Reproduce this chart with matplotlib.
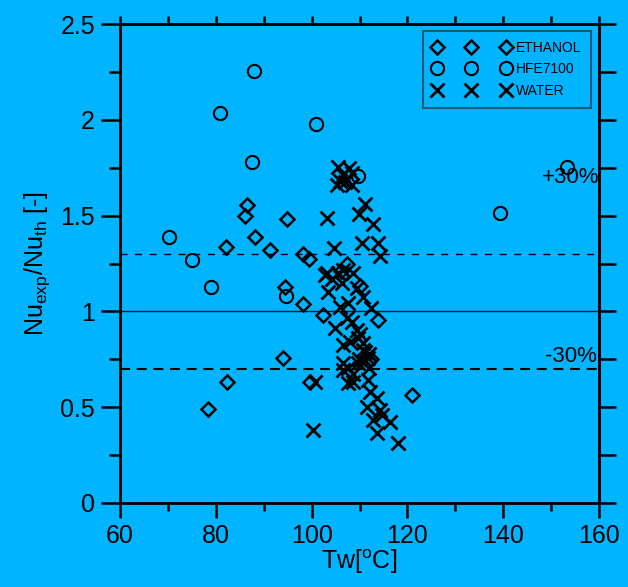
import matplotlib
matplotlib.use("Agg")
import matplotlib.pyplot as plt
from matplotlib.ticker import MultipleLocator, NullFormatter

plt.rcParams['font.family'] = ['Liberation Sans', 'DejaVu Sans']
plt.rcParams['mathtext.fontset'] = 'custom'
plt.rcParams['mathtext.rm'] = 'Liberation Sans'
plt.rcParams['mathtext.it'] = 'Liberation Sans:italic'

BG = '#00B4FF'

ethanol_x = [78.3, 82.2, 82.3, 86.1, 86.6, 88.2, 91.4, 94.8, 94.4, 94.1, 98.2, 98.3,
             99.4, 99.6, 102.4, 120.9, 113.9, 107.4, 110.1, 106.2, 112.3]
ethanol_y = [0.488, 1.336, 0.633, 1.498, 1.555, 1.39, 1.322, 1.484, 1.127, 0.758, 1.041, 1.30,
             1.275, 0.631, 0.98, 0.5625, 0.957, 1.25, 1.13, 1.21, 0.75]

hfe_x = [70.2, 75.0, 79.0, 80.9, 87.9, 87.5, 94.7, 100.9, 109.6, 139.4, 153.3]
hfe_y = [1.387, 1.27, 1.129, 2.035, 2.256, 1.78, 1.08, 1.98, 1.705, 1.516, 1.754]

water_x = [105.5, 107.9, 106.6, 108.4, 105.2, 107.0, 108.4, 106.0, 111.1, 109.9, 103.3, 112.9,
           110.6, 113.8, 104.7, 114.3, 102.8, 103.2, 104.2, 106.6, 105.6, 106.3, 108.7, 103.5,
           109.4, 110.8, 107.7, 105.9, 112.5, 104.9, 107.3, 108.4, 109.4, 110.2, 106.6, 110.8,
           108.0, 109.7, 110.7, 111.2, 111.9, 109.9, 106.6, 107.6, 110.7, 111.9, 109.7, 111.8,
           106.6, 108.6, 107.7, 108.7, 111.8, 100.7, 112.2, 113.6, 111.5, 114.3, 114.6, 112.9,
           116.4, 113.6, 118.0, 100.3]
water_y = [1.755, 1.747, 1.71, 1.72, 1.66, 1.677, 1.66, 1.68, 1.559, 1.507, 1.49, 1.456,
           1.356, 1.358, 1.33, 1.289, 1.19, 1.20, 1.17, 1.216, 1.20, 1.147, 1.199, 1.103,
           1.12, 1.077, 1.042, 1.025, 1.016, 0.912, 0.964, 0.946, 0.903, 0.88, 0.825, 0.80,
           0.842, 0.86, 0.834, 0.79, 0.78, 0.752, 0.729, 0.703, 0.736, 0.703, 0.729, 0.755,
           0.694, 0.674, 0.625, 0.633, 0.642, 0.633, 0.581, 0.546, 0.503, 0.485, 0.46, 0.433,
           0.424, 0.364, 0.311, 0.381]

ref_levels = [1.3, 1.0, 0.7]
band_labels = ['+30%', '-30%']
x_ticks = [60, 80, 100, 120, 140, 160]
y_ticks = [0, 0.5, 1, 1.5, 2, 2.5]

fig = plt.figure(figsize=(6.28, 5.87), dpi=100, facecolor=BG)
ax = fig.add_axes([120/628, 1 - 503/587, 479/628, 479/587])
ax.set_facecolor(BG)

ax.axhline(ref_levels[0], color='black', lw=1.0, ls=(0, (5, 5.5)), zorder=1)
ax.axhline(ref_levels[1], color='#0a1a2a', lw=1.0, ls='-', zorder=1)
ax.axhline(ref_levels[2], color='black', lw=1.5, ls=(0, (4.8, 3.2)), zorder=1)

ax.plot(ethanol_x, ethanol_y, ls='none', marker='D', ms=7.4, mfc='none', mec='black',
        mew=1.8, label='ETHANOL', zorder=3)
ax.plot(hfe_x, hfe_y, ls='none', marker='o', ms=9.5, mfc='none', mec='black',
        mew=1.5, label='HFE7100', zorder=3)
ax.plot(water_x, water_y, ls='none', marker='x', ms=10, mec='black',
        mew=2.0, label='WATER', zorder=3)

ax.text(148, 1.70, band_labels[0], fontsize=16, ha='left', va='center')
ax.text(148.7, 0.765, band_labels[1], fontsize=16, ha='left', va='center')

ax.set_xlim(60, 160)
ax.set_ylim(0, 2.5)
ax.set_xticks(x_ticks)
ax.set_xticklabels([str(v) for v in x_ticks])
ax.set_yticks(y_ticks)
ax.set_yticklabels(['0', '0.5', '1', '1.5', '2', '2.5'])
ax.xaxis.set_minor_locator(MultipleLocator(10))
ax.yaxis.set_minor_locator(MultipleLocator(0.25))

for s in ax.spines.values():
    s.set_linewidth(2.0)
ax.tick_params(which='both', direction='out', width=1.8, top=False, right=False,
               labelsize=18, pad=4)
ax.tick_params(axis='x', which='major', length=11)
ax.tick_params(axis='x', which='minor', length=6)
ax.tick_params(axis='y', which='major', length=14)
ax.tick_params(axis='y', which='minor', length=8)

# top ticks (outward, short, every 10)
axt = ax.secondary_xaxis('top')
axt.set_xticks(list(range(60, 161, 10)))
axt.xaxis.set_major_formatter(NullFormatter())
axt.tick_params(direction='out', length=5.5, width=1.8)
axt.spines['top'].set_linewidth(2.0)

# right ticks (outward, every 0.25)
axr = ax.secondary_yaxis('right')
axr.set_yticks([i * 0.25 for i in range(11)])
axr.yaxis.set_major_formatter(NullFormatter())
axr.tick_params(direction='out', length=12, width=1.8)
axr.spines['right'].set_linewidth(2.0)

ax.set_xlabel('Tw[$^{\\rm o}$C]', fontsize=18, labelpad=0)
ax.set_ylabel('Nu$_{\\rm exp}$/Nu$_{\\rm th}$ [-]', fontsize=18, labelpad=6)

leg = ax.legend(loc='upper right', bbox_to_anchor=(591/628, 1 - 31/587),
                bbox_transform=fig.transFigure, numpoints=3, fontsize=10,
                handlelength=5.6, handletextpad=0.4, labelspacing=0.55,
                borderpad=0.7, borderaxespad=0, fancybox=False, frameon=True,
                markerscale=1.0)
leg.get_frame().set_facecolor(BG)
leg.get_frame().set_edgecolor('#1a5a7a')
leg.get_frame().set_linewidth(1.5)
leg.get_frame().set_alpha(1)

fig.savefig('out.png', dpi=100, facecolor=BG)
